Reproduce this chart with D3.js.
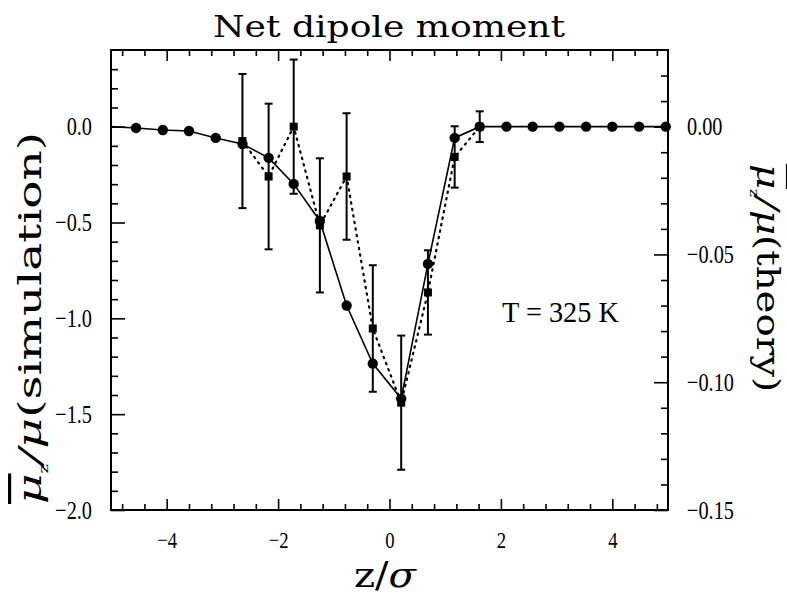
<!DOCTYPE html>
<html>
<head>
<meta charset="utf-8">
<script src="https://cdn.jsdelivr.net/npm/d3@7/dist/d3.min.js"></script>
<style>
  html, body { margin: 0; padding: 0; background: #fff; }
  svg { display: block; }
</style>
</head>
<body>
<svg id="chart" width="787" height="596"></svg>
<script>
// ---------------- data ----------------
const title = "Net dipole moment";
const annotation = "T = 325 K";

// theory curve (right axis), solid line with filled circles
const zTheory = [-5.0, -4.55, -4.07, -3.6, -3.12, -2.64, -2.17, -1.72, -1.25, -0.77, -0.30,
                 0.21, 0.69, 1.17, 1.62, 2.10, 2.57, 3.05, 3.53, 4.0, 4.48, 4.96];
const muTheory = [0, -0.0005, -0.0013, -0.0017, -0.0044, -0.0068, -0.0122, -0.0224, -0.0369, -0.0700, -0.0927,
                  -0.1064, -0.0537, -0.0044, 0, 0, 0, 0, 0, 0, 0, 0];

// simulation (left axis), dotted line with squares and error bars
const zSim = [-2.64, -2.17, -1.72, -1.25, -0.77, -0.30, 0.21, 0.69, 1.17, 1.62];
const muSim = [-0.075, -0.26, 0.0, -0.515, -0.26, -1.053, -1.44, -0.865, -0.158, 0.0];
const errSim = [0.35, 0.38, 0.35, 0.35, 0.33, 0.33, 0.35, 0.22, 0.16, 0.08];

const xTicks = [-4, -2, 0, 2, 4];
const xMinor = [-4.8, -4.4, -3.6, -3.2, -2.8, -2.4, -1.6, -1.2, -0.8, -0.4,
                0.4, 0.8, 1.2, 1.6, 2.4, 2.8, 3.2, 3.6, 4.4, 4.8];
const yLeftTicks = [0.0, -0.5, -1.0, -1.5, -2.0];
const yLeftMinor = [0.3, 0.2, 0.1, -0.1, -0.2, -0.3, -0.4, -0.6, -0.7, -0.8, -0.9,
                    -1.1, -1.2, -1.3, -1.4, -1.6, -1.7, -1.8, -1.9];
const yRightTicks = [0.0, -0.05, -0.10, -0.15];
const yRightMinor = [0.02, 0.01, -0.01, -0.02, -0.03, -0.04, -0.06, -0.07, -0.08, -0.09,
                     -0.11, -0.12, -0.13, -0.14];

// ---------------- layout ----------------
const margin = {left: 111, top: 50, right: 119, bottom: 86};
const W = 787, H = 596;
const w = W - margin.left - margin.right;
const h = H - margin.top - margin.bottom;

const svg = d3.select("#chart");
const g = svg.append("g").attr("transform", `translate(${margin.left},${margin.top})`);

const x = d3.scaleLinear().domain([-5, 5]).range([0, w]);
const yL = d3.scaleLinear().domain([-2.0, 0.4]).range([h, 0]);
const yR = d3.scaleLinear().domain([-0.15, 0.03]).range([h, 0]);

const tickFont = "'Liberation Serif', 'Times New Roman', serif";
const minus = s => s.replace("-", "\u2212");

function styleAxis(sel) {
  sel.select(".domain").remove();
  sel.selectAll(".tick line").attr("stroke", "#000").attr("stroke-width", 1.6);
  sel.selectAll(".tick text").attr("fill", "#000").style("font-family", tickFont);
}

// left
g.append("g").call(d3.axisLeft(yL).tickValues(yLeftTicks).tickSize(-14).tickPadding(19)
    .tickFormat(d => d3.format(".1f")(d)))
  .call(styleAxis).selectAll("text").style("font-size", "26px");
g.append("g").call(d3.axisLeft(yL).tickValues(yLeftMinor).tickSize(-7).tickFormat(""))
  .call(styleAxis);

// right
g.append("g").attr("transform", `translate(${w},0)`)
  .call(d3.axisRight(yR).tickValues(yRightTicks).tickSize(-14).tickPadding(19)
    .tickFormat(d => minus(d3.format(".2f")(d))))
  .call(styleAxis).selectAll("text").style("font-size", "26px");
g.append("g").attr("transform", `translate(${w},0)`)
  .call(d3.axisRight(yR).tickValues(yRightMinor).tickSize(-7).tickFormat(""))
  .call(styleAxis);

// bottom
g.append("g").attr("transform", `translate(0,${h})`)
  .call(d3.axisBottom(x).tickValues(xTicks).tickSize(-11).tickPadding(21)
    .tickFormat(d => minus(d3.format("d")(d))))
  .call(styleAxis).selectAll("text").style("font-size", "24px");
g.append("g").attr("transform", `translate(0,${h})`)
  .call(d3.axisBottom(x).tickValues(xMinor).tickSize(-6).tickFormat(""))
  .call(styleAxis);

// top
g.append("g")
  .call(d3.axisTop(x).tickValues(xTicks).tickSize(-11).tickFormat(""))
  .call(styleAxis);
g.append("g")
  .call(d3.axisTop(x).tickValues(xMinor).tickSize(-6).tickFormat(""))
  .call(styleAxis);

// condense tick labels
g.selectAll(".tick text").each(function() {
  const len = this.getComputedTextLength();
  if (len > 0) d3.select(this).attr("textLength", len * 0.78).attr("lengthAdjust", "spacingAndGlyphs");
});

// frame
g.append("rect").attr("x", 0).attr("y", 0).attr("width", w).attr("height", h)
  .attr("fill", "none").attr("stroke", "#000").attr("stroke-width", 2);

// ---------------- marks ----------------
const theory = zTheory.map((z, i) => ({z, v: muTheory[i]}));
const sim = zSim.map((z, i) => ({z, v: muSim[i], e: errSim[i]}));

svg.append("defs").append("clipPath").attr("id", "clip")
  .append("rect").attr("width", w).attr("height", h);
const plot = g.append("g").attr("clip-path", "url(#clip)");

// dotted simulation line
plot.append("path").datum(sim)
  .attr("fill", "none").attr("stroke", "#000").attr("stroke-width", 2.2)
  .attr("stroke-dasharray", "1.4,5.2").attr("stroke-linecap", "round")
  .attr("d", d3.line().x(d => x(d.z)).y(d => yL(d.v)));

// error bars
const eb = g.append("g").selectAll("g").data(sim).join("g");
eb.append("line")
  .attr("x1", d => x(d.z)).attr("x2", d => x(d.z))
  .attr("y1", d => yL(d.v + d.e)).attr("y2", d => yL(d.v - d.e))
  .attr("stroke", "#000").attr("stroke-width", 2);
eb.append("line")
  .attr("x1", d => x(d.z) - 4).attr("x2", d => x(d.z) + 4)
  .attr("y1", d => yL(d.v + d.e)).attr("y2", d => yL(d.v + d.e))
  .attr("stroke", "#000").attr("stroke-width", 2);
eb.append("line")
  .attr("x1", d => x(d.z) - 4).attr("x2", d => x(d.z) + 4)
  .attr("y1", d => yL(d.v - d.e)).attr("y2", d => yL(d.v - d.e))
  .attr("stroke", "#000").attr("stroke-width", 2);

// squares
g.append("g").selectAll("rect").data(sim).join("rect")
  .attr("x", d => x(d.z) - 4).attr("y", d => yL(d.v) - 4)
  .attr("width", 8).attr("height", 8).attr("fill", "#000");

// solid theory line
plot.append("path").datum(theory)
  .attr("fill", "none").attr("stroke", "#000").attr("stroke-width", 1.6)
  .attr("d", d3.line().x(d => x(d.z)).y(d => yR(d.v)));

g.append("g").selectAll("circle").data(theory.filter(d => d.z > -4.9)).join("circle")
  .attr("cx", d => x(d.z)).attr("cy", d => yR(d.v)).attr("r", 5.2).attr("fill", "#000");

// ---------------- texts ----------------
const serif = "'DejaVu Serif', serif";

svg.append("text").attr("x", 389).attr("y", 37).attr("text-anchor", "middle")
  .style("font-family", serif).style("font-size", "30px")
  .attr("textLength", 352).attr("lengthAdjust", "spacingAndGlyphs").text(title);

svg.append("text").attr("x", 502).attr("y", 322)
  .style("font-family", tickFont).style("font-size", "29px")
  .attr("textLength", 117).attr("lengthAdjust", "spacingAndGlyphs")
  .text(annotation);

// bottom label z/σ
const xl = svg.append("text").attr("x", 385).attr("y", 587).attr("text-anchor", "middle")
  .style("font-family", serif).style("font-size", "36px")
  .attr("textLength", 62).attr("lengthAdjust", "spacingAndGlyphs");
xl.append("tspan").text("z/");
xl.append("tspan").style("font-style", "italic").text("σ");

// axis labels
function muLabel(sel, rest) {
  sel.append("tspan").style("font-style", "italic").style("text-decoration", "overline").text("μ");
  sel.append("tspan").attr("dy", 7).style("font-size", "12px").text("z");
  sel.append("tspan").attr("dy", -7).style("font-style", "italic").text("/μ");
  sel.append("tspan").text(rest);
}
const yl = svg.append("text")
  .attr("transform", "translate(41,318) rotate(-90)").attr("text-anchor", "middle")
  .style("font-family", serif).style("font-size", "32px")
  .attr("textLength", 372).attr("lengthAdjust", "spacingAndGlyphs");
muLabel(yl, "(simulation)");

const yr = svg.append("text")
  .attr("transform", "translate(757,278) rotate(90)").attr("text-anchor", "middle")
  .style("font-family", serif).style("font-size", "31px")
  .attr("textLength", 228).attr("lengthAdjust", "spacingAndGlyphs");
muLabel(yr, "(theory)");
</script>
</body>
</html>
